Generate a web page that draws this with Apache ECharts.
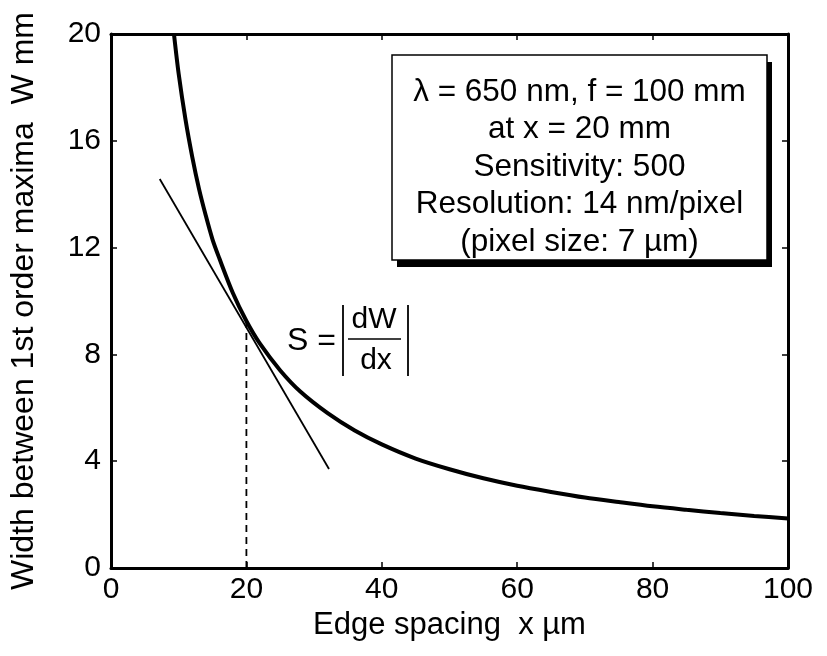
<!DOCTYPE html>
<html>
<head>
<meta charset="utf-8" />
<title>W vs edge spacing</title>
<style type="text/css">
body{ margin:0; background:#fff; }
#chart{ width:827px; height:656px; }
</style>
</head>
<body>
<div id="chart"></div>
<script src="https://cdn.jsdelivr.net/npm/echarts@6/dist/echarts.min.js"></script>
<script type="text/javascript">
// data
var curveX = [9.3, 10, 11, 12, 13, 14, 15, 16, 18, 20, 22, 25, 28, 32, 36, 40, 45, 50, 55, 60, 65, 70, 75, 80, 85, 90, 95, 100];
var curveW = [20, 18.5, 16.8, 15.4, 14.2, 13.2, 12.3, 11.6, 10.3, 9.25, 8.4, 7.4, 6.6, 5.8, 5.15, 4.63, 4.1, 3.7, 3.36, 3.08, 2.85, 2.64, 2.47, 2.31, 2.18, 2.06, 1.95, 1.85];
var tangentX = [7.2, 32.2];
var tangentW = [14.57, 3.71];
var dropX = [20, 20];
var dropW = [0, 9.2];
var xTicks = [0, 20, 40, 60, 80, 100];
var yTicks = [0, 4, 8, 12, 16, 20];
var boxLines = ['\u03bb = 650 nm, f = 100 mm', 'at x = 20 mm', 'Sensitivity: 500', 'Resolution: 14 nm/pixel', '(pixel size: 7 \u00b5m)'];

var FONT = "'Liberation Sans', Arial, sans-serif";

function pairs(xs, ys){
    var out = [];
    for (var i = 0; i < xs.length; i++) out.push([xs[i], ys[i]]);
    return out;
}

var myChart = echarts.init(document.getElementById('chart'));

function axisBase(pos, showLabel){
    return {
        type: 'value',
        position: pos,
        axisLine: { show: true, onZero: false, lineStyle: { color: '#000', width: 3 } },
        axisTick: { show: true, inside: true, length: 6, lineStyle: { color: '#000', width: 1.5 } },
        axisLabel: { show: showLabel, color: '#000', fontSize: 30, fontFamily: FONT },
        splitLine: { show: false }
    };
}

var xb = axisBase('bottom', true);
xb.min = xTicks[0]; xb.max = xTicks[xTicks.length - 1]; xb.interval = 20;
xb.axisLabel.margin = 7;
xb.name = 'Edge spacing  x \u00b5m';
xb.nameLocation = 'middle';
xb.nameGap = 42;
xb.nameTextStyle = { color: '#000', fontSize: 31, fontFamily: FONT };
var xt = axisBase('top', false);
xt.min = 0; xt.max = 100; xt.interval = 20;

var yl = axisBase('left', true);
yl.min = yTicks[0]; yl.max = yTicks[yTicks.length - 1]; yl.interval = 4;
yl.axisLabel.margin = 10;
yl.name = 'Width between 1st order maxima  W mm';
yl.nameLocation = 'middle';
yl.nameGap = 71;
yl.nameTextStyle = { color: '#000', fontSize: 32, fontFamily: FONT };
var yr = axisBase('right', false);
yr.min = 0; yr.max = 20; yr.interval = 4;

// annotation box (text panel with shadow)
var bx = 392, by = 55, bw = 375, bh = 205;
var graphics = [
    { type: 'rect', shape: { x: bx + 5, y: by + 7, width: bw, height: bh }, style: { fill: '#000' }, z: 10 },
    { type: 'rect', shape: { x: bx, y: by, width: bw, height: bh }, style: { fill: '#fff', stroke: '#000', lineWidth: 1.5 }, z: 11 }
];
for (var i = 0; i < boxLines.length; i++) {
    graphics.push({
        type: 'text', z: 12,
        style: { text: boxLines[i], x: bx + bw / 2, y: 92 + i * 37.5, fill: '#000', font: '31.5px ' + FONT,
                 textAlign: 'center', textVerticalAlign: 'middle', align: 'center', verticalAlign: 'middle' }
    });
}
// S = |dW/dx|
graphics.push(
    { type: 'text', z: 12, style: { text: 'S =', x: 287, y: 341, fill: '#000', font: '32px ' + FONT, textAlign: 'left', textVerticalAlign: 'middle', align: 'left', verticalAlign: 'middle' } },
    { type: 'text', z: 12, style: { text: 'dW', x: 374, y: 320, fill: '#000', font: '30px ' + FONT, textAlign: 'center', textVerticalAlign: 'middle', align: 'center', verticalAlign: 'middle' } },
    { type: 'text', z: 12, style: { text: 'dx', x: 376, y: 361, fill: '#000', font: '30px ' + FONT, textAlign: 'center', textVerticalAlign: 'middle', align: 'center', verticalAlign: 'middle' } },
    { type: 'line', z: 12, shape: { x1: 348, y1: 339, x2: 401, y2: 339 }, style: { stroke: '#000', lineWidth: 1.5 } },
    { type: 'line', z: 12, shape: { x1: 343, y1: 305, x2: 343, y2: 376 }, style: { stroke: '#000', lineWidth: 1.8 } },
    { type: 'line', z: 12, shape: { x1: 408, y1: 305, x2: 408, y2: 376 }, style: { stroke: '#000', lineWidth: 1.8 } }
);

var option = {
    animation: false,
    backgroundColor: '#fff',
    grid: { left: 110, top: 34, right: 39, bottom: 88, containLabel: false },
    xAxis: [xb, xt],
    yAxis: [yl, yr],
    series: [
        {
            name: 'W', type: 'line', data: pairs(curveX, curveW), smooth: 0.3,
            showSymbol: false, lineStyle: { color: '#000', width: 4 }, z: 5
        },
        {
            name: 'tangent', type: 'line', data: pairs(tangentX, tangentW),
            showSymbol: false, lineStyle: { color: '#000', width: 1.8 }, z: 4
        },
        {
            name: 'drop', type: 'line', data: pairs(dropX, dropW),
            showSymbol: false, lineStyle: { color: '#000', width: 1.8, type: [7, 5] }, z: 3
        }
    ],
    graphic: graphics
};

myChart.setOption(option, true);
</script>
</body>
</html>
